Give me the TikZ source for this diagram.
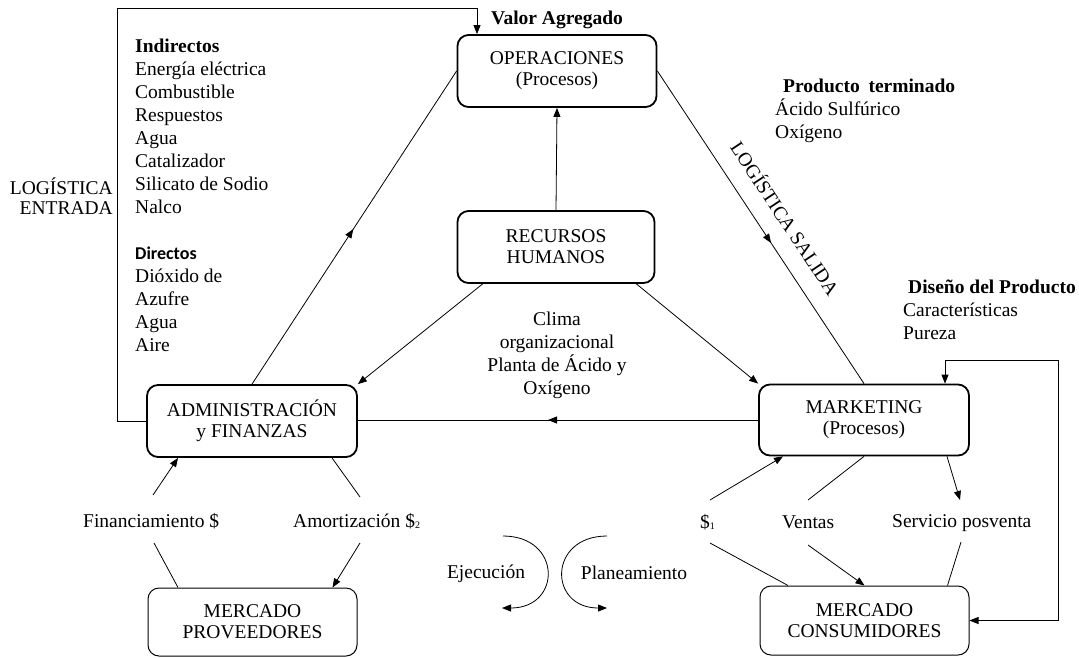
\documentclass[tikz,border=0pt]{standalone}
\usepackage{fontspec}
\setmainfont{Liberation Serif}
\newfontfamily\calibrifont{Carlito}
\usetikzlibrary{arrows.meta,decorations.markings}
\newcommand\boxsz{\fontsize{19.5}{21}\selectfont}
\newcommand\listsz{\fontsize{19.5}{23}\selectfont}
\newcommand\firstln{\rule{0pt}{18pt}}
\newcommand\smalldig[1]{\raisebox{-1pt}{\fontsize{10}{10}\selectfont #1}}
\tikzset{
  every node/.style={font=\listsz, inner sep=0pt},
  mainbox/.style={draw, line width=1.8pt, rounded corners=11pt, align=center, font=\boxsz},
  mktbox/.style={draw, line width=1pt, rounded corners=11pt, align=center, font=\boxsz},
  link/.style={line width=0.8pt},
  tip/.style={-{Triangle[length=9pt,width=7pt]}},
  midtip/.style={postaction={decorate}, decoration={markings,
      mark=at position #1 with {\arrow{Triangle[length=9pt,width=7pt]}}}},
}
\begin{document}
\begin{tikzpicture}[x=1pt,y=-1pt]
\useasboundingbox (0,0) rectangle (1079,657);

% main process boxes
\node[mainbox, minimum width=199, minimum height=72] (ops) at (557,71) {OPERACIONES\\(Procesos)};
\node[mainbox, minimum width=197, minimum height=72] (rh) at (556,247) {RECURSOS\\HUMANOS};
\node[mainbox, minimum width=210, minimum height=72] (adm) at (252,421) {ADMINISTRACIÓN\\y FINANZAS};
\node[mainbox, minimum width=210, minimum height=71] (mkt) at (864,420) {MARKETING\\(Procesos)};
% markets
\node[mktbox, minimum width=209, minimum height=68] (mp) at (252.5,622) {MERCADO\\PROVEEDORES};
\node[mktbox, minimum width=209, minimum height=69] (mc) at (864.5,620.5) {MERCADO\\CONSUMIDORES};

% text blocks
\node[anchor=base west, font=\listsz\bfseries] (valor) at (491,24) {Valor Agregado};
\node[anchor=north east, align=right, font=\fontsize{19.5}{20}\selectfont] (logent) at (113,176) {\firstln LOGÍSTICA\\ENTRADA};
\node[anchor=north west, align=left] (insumos) at (135,34)
  {\firstln\textbf{Indirectos}\\Energía eléctrica\\Combustible\\Respuestos\\Agua\\Catalizador\\Silicato de Sodio\\Nalco\\ \\
   {\calibrifont\bfseries\fontsize{18}{23}\selectfont Directos}\\Dióxido de\\Azufre\\Agua\\Aire};
\node[anchor=north west, font=\listsz\bfseries] (prodt) at (783,74) {\firstln Producto\hspace{0.45em}terminado};
\node[anchor=north west, align=left] (prodl) at (775,97) {\firstln Ácido Sulfúrico\\Oxígeno};
\node[anchor=north west, font=\listsz\bfseries] (disen) at (908,275) {\firstln Diseño del Producto};
\node[anchor=north west, align=left] (disl) at (903,298) {\firstln Características\\Pureza};
\node[anchor=north, align=center] (clima) at (557,307) {\firstln Clima\\organizacional\\Planta de Ácido y\\Oxígeno};
\node[rotate=-56.4, font=\fontsize{19.5}{21}\selectfont] (logsal) at (786,218) {LOGÍSTICA SALIDA};

\node[anchor=base west] (fin) at (83,527) {Financiamiento \$};
\node[anchor=base west] (amo) at (293,527) {Amortización \$\smalldig{2}};
\node[anchor=base west] (pago) at (700,528) {\$\smalldig{1}};
\node[anchor=base west] (ven) at (782,528) {Ventas};
\node[anchor=base west] (serv) at (892,527) {Servicio posventa};
\node[anchor=base] (ejec) at (486,578) {Ejecución};
\node[anchor=base] (plan) at (634,579) {Planeamiento};

% free ends of the label-split connectors
\coordinate (fin1) at (153,495);  \coordinate (fin2) at (154,543);
\coordinate (amo1) at (360,497);  \coordinate (amo2) at (360,543);
\coordinate (pag1) at (710,500);  \coordinate (pag2) at (710,543);
\coordinate (ven1) at (808,500);  \coordinate (ven2) at (808,545);
\coordinate (ser1) at (960,500);  \coordinate (ser2) at (961,542);
\coordinate (fbl) at (117,8);     \coordinate (fbr) at (477,8);
\coordinate (fbm) at (1058,360);
\coordinate (ej1) at (503,536);   \coordinate (ej2) at (502,608);
\coordinate (pl1) at (607,536);   \coordinate (pl2) at (607,608);

% triangle of flows
\draw[link, tip] (rh.north) -- (ops.south);
\draw[link, midtip=0.495] (adm.north) -- (ops.west);
\draw[link, midtip=0.55] (ops.east) -- (mkt.north);
\draw[link, tip] ([xshift=26]rh.south west) -- (adm.north east);
\draw[link, tip] ([xshift=-19]rh.south east) -- (mkt.north west);
\draw[link, midtip=0.525] (mkt.west) -- (mkt.west -| adm.east);

% inbound logistics loop
\draw[link, tip] (adm.west) -| (fbl) -- (fbr) -- (fbr |- ops.north);
% customer feedback loop
\draw[link, {Triangle[length=9pt,width=7pt]}-{Triangle[length=9pt,width=7pt]}]
  (mc.east) -| (fbm) -| ([xshift=81]mkt.north);

% finance flows
\draw[link, tip] (fin1) -- ([xshift=-74]adm.south);
\draw[link] (fin2) -- ([xshift=-74.5]mp.north);
\draw[link] ([xshift=80]adm.south) -- (amo1);
\draw[link, tip] (amo2) -- ([xshift=80]mp.north);

% market flows
\draw[link, tip] (pag1) -- ([xshift=-81]mkt.south);
\draw[link] (pag2) -- ([xshift=-76.5]mc.north);
\draw[link] (mkt.south) -- (ven1);
\draw[link, tip] (ven2) -- (mc.north);
\draw[link, tip] ([xshift=83]mkt.south) -- (ser1);
\draw[link] (ser2) -- ([xshift=83]mc.north);

% execution / planning cycle
\draw[link, tip] (ej1) .. controls (562,536) and (562,608) .. (ej2);
\draw[link, tip] (pl1) .. controls (548,536) and (548,608) .. (pl2);
\end{tikzpicture}
\end{document}
